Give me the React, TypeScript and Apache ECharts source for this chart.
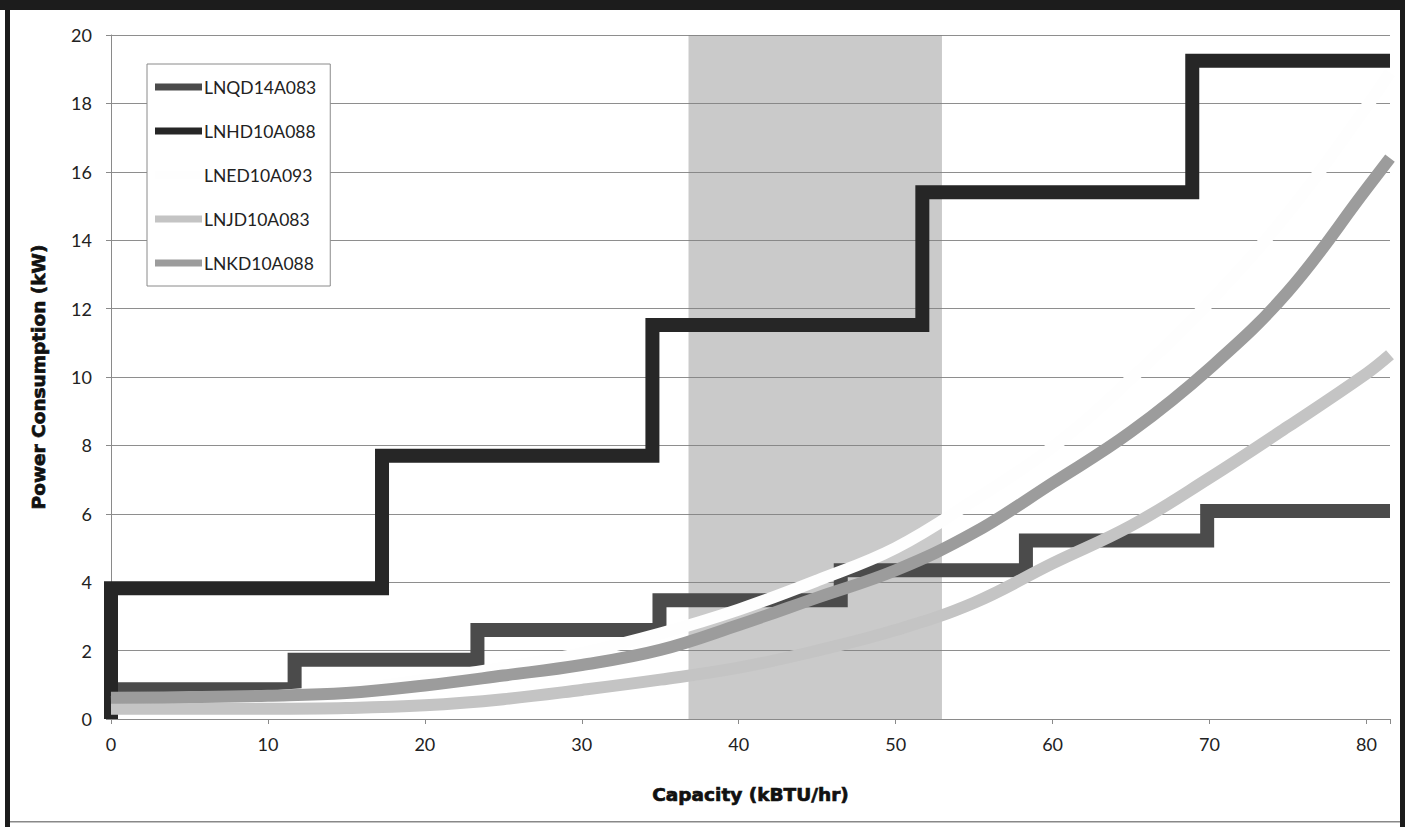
import React, { useEffect, useRef } from "react";
import * as echarts from "echarts";

const seriesNames = ["LNQD14A083", "LNHD10A088", "LNED10A093", "LNJD10A083", "LNKD10A088"];

// step series: x edges and the level held between consecutive edges
const lnqdEdges = [0, 11.7, 23.35, 34.95, 46.5, 58.3, 69.85, 81.5];
const lnqdLevels = [0.87, 1.73, 2.6, 3.47, 4.35, 5.22, 6.08];
const lnhdEdges = [0, 17.27, 34.5, 51.7, 68.9, 81.5];
const lnhdLevels = [3.82, 7.7, 11.52, 15.4, 19.25];

// curve series
const curveX = [0, 5, 10, 15, 20, 25, 30, 35, 40, 45, 50, 55, 60, 65, 70, 75, 80, 81.5];
const lnedValues = [0.5, 0.55, 0.65, 0.85, 1.15, 1.5, 1.93, 2.5, 3.2, 4.05, 5.0, 6.4, 7.95, 9.95, 12.2, 14.8, 17.9, 18.9];
const lnjdValues = [0.3, 0.3, 0.3, 0.32, 0.4, 0.58, 0.85, 1.15, 1.5, 2.0, 2.6, 3.4, 4.55, 5.65, 7.05, 8.55, 10.1, 10.65];
const lnkdValues = [0.62, 0.64, 0.68, 0.76, 0.98, 1.27, 1.58, 2.02, 2.75, 3.55, 4.35, 5.45, 6.9, 8.4, 10.25, 12.5, 15.5, 16.4];

const shadedRange = [36.8, 52.95];

const xMin = 0;
const xMax = 81.5;
const xInterval = 10;
const yMin = 0;
const yMax = 20;
const yInterval = 2;

const colors = ["#4b4b4b", "#262626", "#fefefe", "#c4c4c4", "#9c9c9c"];

function stepPoints(edges: number[], levels: number[]): number[][] {
  const pts: number[][] = [[edges[0], 0]];
  for (let i = 0; i < levels.length; i++) {
    pts.push([edges[i], levels[i]]);
    pts.push([edges[i + 1], levels[i]]);
  }
  return pts;
}

function curvePoints(xs: number[], ys: number[]): number[][] {
  return xs.map((x, i) => [x, ys[i]]);
}

export default function App() {
  const ref = useRef<HTMLDivElement>(null);

  useEffect(() => {
    if (!ref.current) return;
    const chart = echarts.init(ref.current, null, { renderer: "svg" });

    const stepStyle = (c: string) => ({
      color: c,
      width: 14,
      join: "miter" as const,
      cap: "butt" as const,
    });
    const curveStyle = (c: string) => ({
      color: c,
      width: 12,
      join: "round" as const,
      cap: "butt" as const,
    });

    const datasets = [
      { data: stepPoints(lnqdEdges, lnqdLevels), style: stepStyle(colors[0]), smooth: false },
      { data: stepPoints(lnhdEdges, lnhdLevels), style: stepStyle(colors[1]), smooth: false },
      { data: curvePoints(curveX, lnedValues), style: curveStyle(colors[2]), smooth: true },
      { data: curvePoints(curveX, lnjdValues), style: curveStyle(colors[3]), smooth: true },
      { data: curvePoints(curveX, lnkdValues), style: curveStyle(colors[4]), smooth: true },
    ];

    const axisNameStyle = {
      fontFamily: "DejaVu Sans",
      fontWeight: "bold",
      fontSize: 18.5,
      color: "#111",
      textBorderColor: "#111",
      textBorderWidth: 0.7,
    };

    const option: any = {
      animation: false,
      backgroundColor: "#ffffff",
      grid: { left: 111, right: 15, top: 35, bottom: 108 },
      legend: {
        data: seriesNames.map((n) => ({ name: n, icon: "rect" })),
        orient: "vertical",
        left: 147,
        top: 64,
        padding: [13, 14, 13, 8],
        itemGap: 24,
        itemWidth: 47,
        itemHeight: 7,
        borderColor: "#8a8a8a",
        borderWidth: 1,
        backgroundColor: "#ffffff",
        textStyle: { fontFamily: "Lato", fontSize: 17.5, lineHeight: 20, color: "#222", padding: [0, 0, 0, -3] },
      },
      xAxis: {
        type: "value",
        min: xMin,
        max: xMax,
        interval: xInterval,
        name: "Capacity (kBTU/hr)",
        nameLocation: "middle",
        nameGap: 66,
        nameTextStyle: axisNameStyle,
        axisLine: { show: true, lineStyle: { color: "#8a8a8a", width: 1 } },
        axisTick: { show: true, length: 5, lineStyle: { color: "#8a8a8a" } },
        axisLabel: {
          margin: 16,
          fontFamily: "Lato",
          fontSize: 18,
          color: "#222",
          formatter: (v: number) => (Math.abs(v % xInterval) < 1e-9 ? String(v) : ""),
        },
        splitLine: { show: false },
      },
      yAxis: {
        type: "value",
        min: yMin,
        max: yMax,
        interval: yInterval,
        name: "Power Consumption (kW)",
        nameLocation: "middle",
        nameGap: 63,
        nameTextStyle: axisNameStyle,
        axisLine: { show: true, lineStyle: { color: "#8a8a8a", width: 1 } },
        axisTick: { show: true, length: 5, lineStyle: { color: "#8a8a8a" } },
        axisLabel: { margin: 19, fontFamily: "Lato", fontSize: 18, color: "#222" },
        splitLine: { show: true, lineStyle: { color: "#8e8e8e", width: 1 } },
      },
      series: [
        {
          name: "shade",
          type: "line",
          z: 1,
          data: [[shadedRange[0], 0]],
          symbol: "none",
          lineStyle: { opacity: 0 },
          silent: true,
          markArea: {
            silent: true,
            itemStyle: { color: "rgba(128,128,128,0.42)" },
            data: [[{ xAxis: shadedRange[0] }, { xAxis: shadedRange[1] }]],
          },
        },
        ...datasets.map((d, i) => ({
          name: seriesNames[i],
          type: "line",
          z: 2 + i,
          data: d.data,
          smooth: d.smooth ? 0.4 : false,
          symbol: "none",
          showSymbol: false,
          itemStyle: { color: colors[i] },
          lineStyle: d.style,
        })),
      ],
      graphic: [
        { type: "rect", z: 100, shape: { x: 0, y: 0, width: 1405, height: 10 }, style: { fill: "#1c1c1c" } },
        { type: "rect", z: 100, shape: { x: 5, y: 0, width: 5, height: 827 }, style: { fill: "#1c1c1c" } },
        { type: "rect", z: 100, shape: { x: 1400, y: 0, width: 5, height: 827 }, style: { fill: "#1c1c1c" } },
        { type: "rect", z: 100, shape: { x: 10, y: 821, width: 1390, height: 1.5 }, style: { fill: "#888888" } },
      ],
    };

    chart.setOption(option);
    return () => chart.dispose();
  }, []);

  return (
    <div
      ref={ref}
      style={{ position: "fixed", left: 0, top: 0, width: 1405, height: 827, background: "#fff" }}
    />
  );
}
